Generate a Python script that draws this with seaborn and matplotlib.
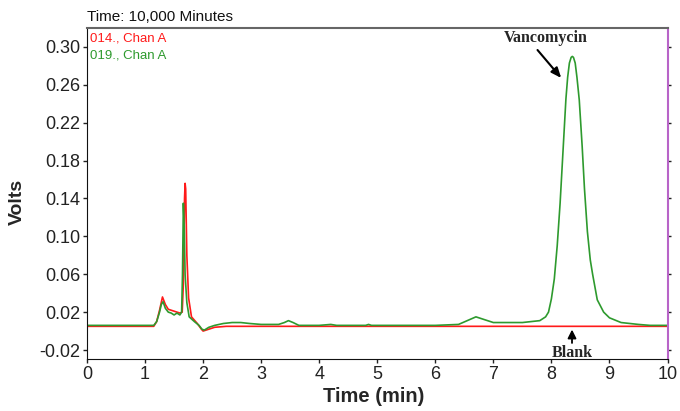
import matplotlib
matplotlib.use("Agg")
import matplotlib.pyplot as plt
import seaborn as sns
import pandas as pd

# ---- data ----
blank_time = [0.0, 1.15, 1.2, 1.25, 1.3, 1.35, 1.4, 1.5, 1.6, 1.64, 1.66, 1.68, 1.69, 1.70,
              1.72, 1.75, 1.8, 1.9, 1.97, 2.0, 2.1, 2.2, 2.4, 10.0]
blank_volts = [0.005, 0.005, 0.010, 0.022, 0.036, 0.028, 0.023, 0.021, 0.019, 0.020, 0.050,
               0.140, 0.156, 0.150, 0.080, 0.035, 0.015, 0.008, 0.002, 0.000, 0.002, 0.004,
               0.005, 0.005]

sample_time = [0.0, 0.7, 1.15, 1.2, 1.25, 1.28, 1.31, 1.35, 1.4, 1.45, 1.5, 1.55, 1.6, 1.63,
               1.645, 1.66, 1.675, 1.69, 1.72, 1.76, 1.85, 1.93, 1.98, 2.02, 2.1, 2.2, 2.35,
               2.5, 2.65, 2.8, 3.0, 3.3, 3.4, 3.47, 3.55, 3.65, 4.0, 4.2, 4.3, 4.8, 4.85, 4.9,
               6.0, 6.4, 6.55, 6.7, 6.85, 7.0, 7.5, 7.8, 7.9, 7.95, 8.0, 8.05, 8.1, 8.15, 8.2,
               8.25, 8.28, 8.31, 8.34, 8.36, 8.38, 8.41, 8.44, 8.48, 8.53, 8.57, 8.62, 8.67,
               8.71, 8.79, 8.9, 9.0, 9.2, 9.5, 9.7, 10.0]
sample_volts = [0.006, 0.006, 0.006, 0.010, 0.020, 0.028, 0.031, 0.024, 0.020, 0.019, 0.017,
                0.019, 0.017, 0.020, 0.060, 0.135, 0.110, 0.060, 0.030, 0.015, 0.010, 0.006,
                0.002, 0.001, 0.004, 0.006, 0.008, 0.009, 0.009, 0.008, 0.007, 0.007, 0.009,
                0.011, 0.009, 0.006, 0.006, 0.007, 0.006, 0.006, 0.007, 0.006, 0.006, 0.007,
                0.011, 0.015, 0.012, 0.009, 0.009, 0.011, 0.015, 0.020, 0.034, 0.055, 0.090,
                0.135, 0.190, 0.245, 0.268, 0.283, 0.289, 0.290, 0.289, 0.283, 0.268, 0.244,
                0.195, 0.150, 0.105, 0.075, 0.060, 0.033, 0.020, 0.014, 0.009, 0.007, 0.006,
                0.006]

series_names = ["014., Chan A", "019., Chan A"]
series_colors = ["#ff1a1a", "#2e9a2e"]
y_ticks = [-0.02, 0.02, 0.06, 0.10, 0.14, 0.18, 0.22, 0.26, 0.30]
x_ticks = list(range(0, 11))

df = pd.concat([
    pd.DataFrame({"t": blank_time, "v": blank_volts, "s": series_names[0]}),
    pd.DataFrame({"t": sample_time, "v": sample_volts, "s": series_names[1]}),
])

sns.set_style("ticks")
plt.rcParams["font.family"] = ["Liberation Sans", "DejaVu Sans"]

fig = plt.figure(figsize=(6.8, 4.11), dpi=100)
ax = fig.add_axes([87 / 680, 1 - 359 / 411, 580.5 / 680, 331 / 411])

sns.lineplot(data=df, x="t", y="v", hue="s", palette=dict(zip(series_names, series_colors)),
             ax=ax, linewidth=1.2, legend=False, sort=False, estimator=None)

ax.set_xlim(0, 10)
ax.set_ylim(-0.0295, 0.32)
ax.set_xticks(x_ticks)
ax.set_yticks(y_ticks)
ax.set_yticklabels([f"{v:.2f}" for v in y_ticks])
ax.tick_params(axis="both", labelsize=13, length=3, width=1, colors="#222222", pad=2)
ax.tick_params(axis="y", right=True, labelright=False)
for tl in ax.yaxis.get_ticklines()[1::2]:
    tl.set_color("#7a2a8a")
    tl.set_markersize(2)

ax.spines["top"].set_color("#666666")
ax.spines["top"].set_linewidth(1.5)
ax.spines["right"].set_color("#b864c8")
ax.spines["right"].set_linewidth(1.5)
ax.spines["left"].set_color("#111111")
ax.spines["bottom"].set_color("#111111")

ax.set_xlabel("Time (min)", fontsize=14.5, fontweight="bold")
ax.set_ylabel("Volts", fontsize=14, fontweight="bold")
ax.xaxis.set_label_coords(0.494, -0.085)
ax.yaxis.set_label_coords(-0.105, 0.474)

ax.text(0.0, 1.012, "Time: 10,000 Minutes", transform=ax.transAxes, fontsize=11,
        ha="left", va="bottom", color="#111111")
ax.text(0.006, 0.967, series_names[0], transform=ax.transAxes, fontsize=9.5,
        color=series_colors[0], ha="left", va="center")
ax.text(0.006, 0.918, series_names[1], transform=ax.transAxes, fontsize=9.5,
        color=series_colors[1], ha="left", va="center")

serif = ["Liberation Serif", "DejaVu Serif"]
ax.text(7.91, 0.3095, "Vancomycin", family=serif, fontsize=11.5, fontweight="bold",
        ha="center", va="center")
ax.annotate("", xy=(8.2, 0.265), xytext=(7.73, 0.299),
            arrowprops=dict(arrowstyle="-|>,head_length=0.6,head_width=0.25",
                            color="black", lw=1.5))
ax.text(8.355, -0.0235, "Blank", family=serif, fontsize=11.5, fontweight="bold",
        ha="center", va="center")
ax.annotate("", xy=(8.355, 0.0045), xytext=(8.355, -0.0155),
            arrowprops=dict(arrowstyle="-|>,head_length=0.5,head_width=0.25",
                            color="black", lw=1.3))

fig.savefig("out.png", dpi=100)
